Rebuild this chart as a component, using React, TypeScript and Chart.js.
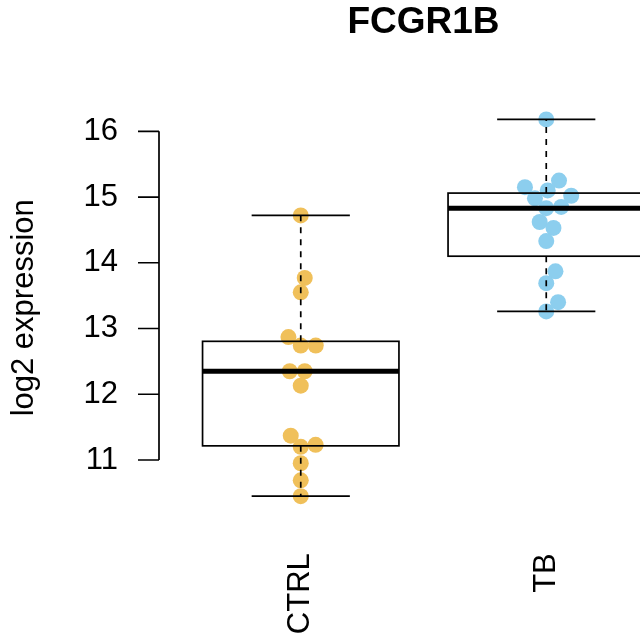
import React, { useEffect, useRef } from "react";
import { Chart, registerables } from "chart.js";

Chart.register(...registerables);

const categories = ["CTRL", "TB"];
const ctrlValues = [14.72, 13.77, 13.55, 12.87, 12.74, 12.74, 12.35, 12.35, 12.13, 11.37, 11.2, 11.23, 10.95, 10.69, 10.45];
const tbValues = [16.18, 15.25, 15.15, 15.1, 15.02, 14.98, 14.85, 14.83, 14.62, 14.53, 14.33, 13.87, 13.69, 13.4, 13.26];
const yTickValues = [11, 12, 13, 14, 15, 16];
const chartTitle = "FCGR1B";
const yTitle = "log2 expression";
const groupColors = ["#F0C05A", "#8CCEEE"];

const FONT = "'Liberation Sans', Arial, Helvetica, sans-serif";
const BOX_WIDTH = 0.8;
const STAPLE_WIDTH = 0.4;
const POINT_RADIUS = 8;
const SWARM_SPACING = 15;
const LINE_W = 1.7;

function fivenum(vals: number[]) {
  const x = [...vals].sort((a, b) => a - b);
  const n = x.length;
  const n4 = Math.floor((n + 3) / 2) / 2;
  const d = [1, n4, (n + 1) / 2, n + 1 - n4, n];
  return d.map((di) => 0.5 * (x[Math.floor(di) - 1] + x[Math.ceil(di) - 1]));
}

function boxStats(vals: number[]) {
  const [mn, q1, med, q3, mx] = fivenum(vals);
  const iqr = q3 - q1;
  const lo = Math.min(...vals.filter((v) => v >= q1 - 1.5 * iqr));
  const hi = Math.max(...vals.filter((v) => v <= q3 + 1.5 * iqr));
  return { q1, med, q3, lo, hi, mn, mx };
}

function swarm(ys: number[], d: number): number[] {
  const idx = ys.map((_, i) => i).sort((a, b) => ys[b] - ys[a]);
  const xs = new Array(ys.length).fill(0);
  const placed: number[] = [];
  for (const i of idx) {
    const near = placed.filter((j) => Math.abs(ys[j] - ys[i]) < d);
    const cands = [0];
    for (const j of near) {
      const dx = Math.sqrt(d * d - (ys[i] - ys[j]) ** 2);
      cands.push(xs[j] + dx, xs[j] - dx);
    }
    const ok = cands.filter((c) => near.every((j) => (xs[j] - c) ** 2 + (ys[j] - ys[i]) ** 2 >= 0.999 * d * d));
    let best = ok[0];
    for (const c of ok) if (Math.abs(c) < Math.abs(best)) best = c;
    xs[i] = best;
    placed.push(i);
  }
  return xs;
}

const groups = [ctrlValues, tbValues];
const allValues = [...ctrlValues, ...tbValues];
const dataMin = Math.min(...allValues);
const dataMax = Math.max(...allValues);
const ext = 0.04 * (dataMax - dataMin);

const swarmPlugin = {
  id: "swarm",
  afterDatasetsUpdate(chart: any) {
    chart.data.datasets.forEach((_: any, di: number) => {
      const meta = chart.getDatasetMeta(di);
      const els = meta.data;
      const ys = els.map((e: any) => e.y);
      const offs = swarm(ys, SWARM_SPACING);
      els.forEach((e: any, k: number) => {
        e.x = e.x + offs[k];
      });
    });
  },
};

const boxPlugin = {
  id: "boxes",
  afterDatasetsDraw(chart: any) {
    const { ctx, scales } = chart;
    const xs = scales.x;
    const ys = scales.y;
    ctx.save();
    ctx.strokeStyle = "#000";
    groups.forEach((vals, gi) => {
      const s = boxStats(vals);
      const c = gi + 1;
      const xl = xs.getPixelForValue(c - BOX_WIDTH / 2);
      const xr = xs.getPixelForValue(c + BOX_WIDTH / 2);
      const xc = xs.getPixelForValue(c);
      const sl = xs.getPixelForValue(c - STAPLE_WIDTH / 2);
      const sr = xs.getPixelForValue(c + STAPLE_WIDTH / 2);
      const yq1 = ys.getPixelForValue(s.q1);
      const yq3 = ys.getPixelForValue(s.q3);
      const ymed = ys.getPixelForValue(s.med);
      const ylo = ys.getPixelForValue(s.lo);
      const yhi = ys.getPixelForValue(s.hi);
      // whiskers
      ctx.lineWidth = LINE_W;
      ctx.setLineDash([6, 6]);
      ctx.beginPath();
      ctx.moveTo(xc, yq3);
      ctx.lineTo(xc, yhi);
      ctx.moveTo(xc, yq1);
      ctx.lineTo(xc, ylo);
      ctx.stroke();
      ctx.setLineDash([]);
      // staples
      ctx.beginPath();
      ctx.moveTo(sl, yhi);
      ctx.lineTo(sr, yhi);
      ctx.moveTo(sl, ylo);
      ctx.lineTo(sr, ylo);
      ctx.stroke();
      // box
      ctx.strokeRect(xl, yq3, xr - xl, yq1 - yq3);
      // median
      ctx.lineWidth = 5;
      ctx.beginPath();
      ctx.moveTo(xl, ymed);
      ctx.lineTo(xr, ymed);
      ctx.stroke();
    });
    ctx.restore();
  },
};

const axisPlugin = {
  id: "rAxis",
  afterDraw(chart: any) {
    const { ctx, chartArea, scales } = chart;
    const ys = scales.y;
    const ax = chartArea.left - 19;
    const top = ys.getPixelForValue(yTickValues[yTickValues.length - 1]);
    const bot = ys.getPixelForValue(yTickValues[0]);
    ctx.save();
    ctx.strokeStyle = "#000";
    ctx.lineWidth = LINE_W;
    ctx.beginPath();
    ctx.moveTo(ax, top);
    ctx.lineTo(ax, bot);
    yTickValues.forEach((v) => {
      const py = ys.getPixelForValue(v);
      ctx.moveTo(ax, py);
      ctx.lineTo(ax - 21, py);
    });
    ctx.stroke();
    ctx.restore();
  },
};

export default function App() {
  const ref = useRef<HTMLCanvasElement | null>(null);
  useEffect(() => {
    if (!ref.current) return;
    const chart = new Chart(ref.current, {
      type: "scatter",
      data: {
        datasets: groups.map((vals, gi) => ({
          label: categories[gi],
          data: vals.map((v) => ({ x: gi + 1, y: v })),
          backgroundColor: groupColors[gi],
          borderWidth: 0,
          pointRadius: POINT_RADIUS,
          pointHoverRadius: POINT_RADIUS,
        })),
      },
      options: {
        responsive: false,
        animation: false,
        events: [],
        layout: { padding: { left: 0, right: 31, top: 0, bottom: 0 } },
        plugins: {
          legend: { display: false },
          tooltip: { enabled: false },
          title: {
            display: true,
            text: chartTitle,
            fullSize: false,
            color: "#000",
            font: { family: FONT, size: 37, weight: "bold" },
            padding: { top: 1, bottom: 59 },
          },
        },
        scales: {
          x: {
            type: "linear",
            min: 0.5,
            max: 2.5,
            border: { display: false },
            grid: { display: false, drawTicks: false },
            afterBuildTicks: (s: any) => {
              s.ticks = categories.map((_, i) => ({ value: i + 1 }));
            },
            afterFit: (s: any) => {
              s.height = 125.8;
            },
            ticks: {
              autoSkip: false,
              minRotation: 90,
              maxRotation: 90,
              padding: 42,
              color: "#000",
              font: { family: FONT, size: 31 },
              callback: (v: any) => categories[Math.round(v) - 1] ?? "",
            },
          },
          y: {
            type: "linear",
            min: dataMin - ext,
            max: dataMax + ext,
            border: { display: false },
            grid: { display: false, drawTicks: false },
            afterBuildTicks: (s: any) => {
              s.ticks = yTickValues.map((v) => ({ value: v }));
            },
            afterFit: (s: any) => {
              s.width = 178;
            },
            title: {
              display: true,
              text: yTitle,
              color: "#000",
              font: { family: FONT, size: 31 },
              padding: { top: 6, bottom: 0 },
            },
            ticks: {
              padding: 60,
              color: "#000",
              font: { family: FONT, size: 31 },
              callback: (v: any) => String(v),
            },
          },
        },
      },
      plugins: [swarmPlugin, boxPlugin, axisPlugin],
    });
    return () => chart.destroy();
  }, []);

  return (
    <div style={{ position: "fixed", left: 0, top: 0, width: 640, height: 637, overflow: "hidden", background: "#fff" }}>
      <canvas ref={ref} width={700} height={637} style={{ display: "block", width: 700, height: 637 }} />
    </div>
  );
}
